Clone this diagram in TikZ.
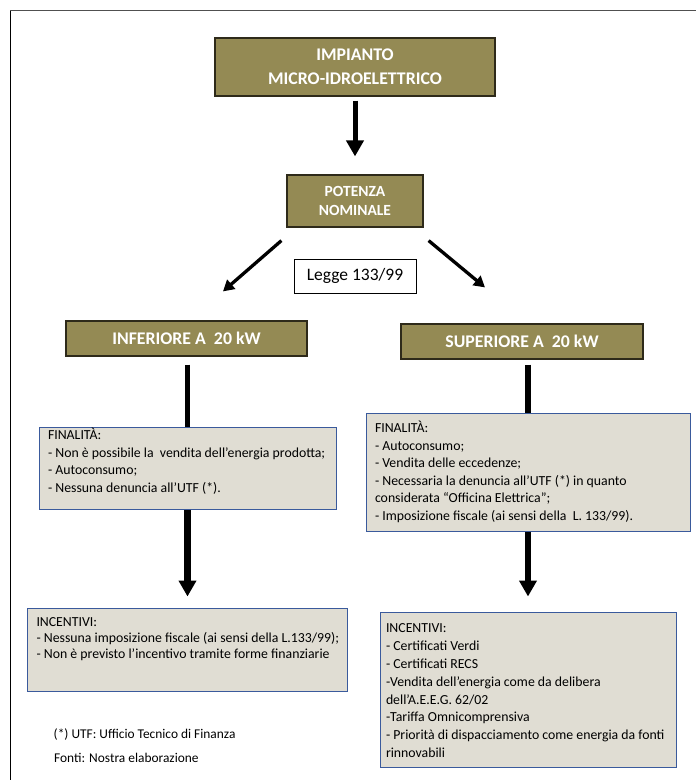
\documentclass[tikz,border=0pt]{standalone}
\usepackage{fontspec}
\setmainfont{Carlito}
\usepackage{tikz}
\usetikzlibrary{arrows.meta,positioning,calc}
\definecolor{headfill}{HTML}{948A54}
\definecolor{headline}{HTML}{2E2A1A}
\definecolor{notefill}{HTML}{E0DDD3}
\definecolor{noteline}{HTML}{3A5A9C}
\definecolor{framegrey}{HTML}{505050}
\newcommand{\notetext}[3]{\parbox[t][#1][t]{#2}{\raggedright\rightskip=-20pt plus 1fil #3}}

\begin{document}
\begin{tikzpicture}[x=1pt,y=-1pt,
  headbox/.style={draw=headline,fill=headfill,line width=1.2pt,text=white,
    font=\fontsize{17.8}{24}\selectfont\bfseries,align=center,inner sep=0pt},
  notebox/.style={draw=noteline,fill=notefill,line width=1pt,
    font=\fontsize{13.8}{17.5}\selectfont,inner xsep=9pt},
  bigarrow/.style={line width=6.5pt,-{Triangle[width=17pt,length=16pt]}},
  diagarrow/.style={line width=3.3pt,-{Triangle[width=12pt,length=11pt]}}]
  \useasboundingbox (0,0) rectangle (696,780);

  % Frame
  \draw[line width=1.2pt] (10.5,780) -- (10.5,10.5);
  \draw[framegrey,line width=1.5pt] (10,10.5) -- (696,10.5);

  % Plant and rated power
  \node[headbox,minimum width=280pt,minimum height=58pt] (impianto) at (355,67)
    {IMPIANTO\\MICRO-IDROELETTRICO};
  \node[headbox,minimum width=136pt,minimum height=52pt,
    font=\fontsize{15.5}{19}\selectfont\bfseries] (potenza) at (355,201)
    {POTENZA\\NOMINALE};
  \node[draw,line width=0.8pt,fill=white,minimum width=122pt,minimum height=34pt,
    inner sep=0pt,font=\fontsize{17.5}{21}\selectfont] (legge) at (355,276)
    {Legge 133/99};

  % The two power classes
  \node[headbox,minimum width=241pt,minimum height=35pt] (inferiore) at (186.5,338.5)
    {INFERIORE A\ \ 20 kW};
  \node[headbox,minimum width=242pt,minimum height=35pt] (superiore) at (522,341.5)
    {SUPERIORE A\ \ 20 kW};

  % Aims
  \node[notebox,inner ysep=1pt] (finL) at (187.5,468)
    {\notetext{80pt}{279pt}{FINALITÀ:\\- Non è possibile la\ \ vendita dell’energia prodotta;\\
     - Autoconsumo;\\- Nessuna denuncia all’UTF (*).}};
  \node[notebox,inner ysep=8pt,font=\fontsize{13.8}{17.6}\selectfont] (finR) at (528,472)
    {\notetext{102pt}{306pt}{FINALITÀ:\\- Autoconsumo;\\- Vendita delle eccedenze;\\
     - Necessaria la denuncia all’UTF (*) in quanto\\considerata “Officina Elettrica”;\\
     - Imposizione fiscale (ai sensi della\ \ L. 133/99).}};

  % Incentives
  \node[notebox,inner ysep=10pt,font=\fontsize{13.8}{16}\selectfont] (incL) at (187.5,649.5)
    {\notetext{63pt}{302pt}{INCENTIVI:\\- Nessuna imposizione fiscale (ai sensi della L.133/99);\\
     - Non è previsto l’incentivo tramite forme finanziarie}};
  \node[notebox,inner xsep=6pt,inner ysep=12pt,font=\fontsize{13.8}{17.8}\selectfont] (incR) at (528,689.5)
    {\notetext{131pt}{284pt}{INCENTIVI:\\- Certificati Verdi\\- Certificati RECS\\
     -Vendita dell’energia come da delibera\\dell’A.E.E.G. 62/02\\-Tariffa Omnicomprensiva\\
     - Priorità di dispacciamento come energia da fonti\\rinnovabili}};

  % Notes
  \node[anchor=west,inner sep=0pt,font=\fontsize{13.4}{15}\selectfont] (nota) at (53.5,735)
    {(*) UTF: Ufficio Tecnico di Finanza};
  \node[anchor=west,inner sep=0pt,font=\fontsize{13.4}{15}\selectfont] (fonti) at (54,758)
    {Fonti: Nostra elaborazione};

  % Connectors
  \draw[bigarrow,line width=5pt,shorten <=4pt,shorten >=18pt] (impianto) -- (potenza);
  \draw[diagarrow] ($(potenza.south west)+(-5,13)$) -- ($(inferiore.north)+(36.5,-29)$);
  \draw[diagarrow] ($(potenza.south east)+(5,13)$) -- ($(superiore.north)+(-37,-36)$);
  \draw[line width=5.5pt,shorten <=8pt] (finL.north |- inferiore.south) -- (finL.north);
  \draw[bigarrow,shorten >=11pt] (finL) -- (incL);
  \draw[line width=5.5pt,shorten <=5pt] (finR.north |- superiore.south) -- (finR.north);
  \draw[bigarrow,shorten >=15pt] (finR) -- (incR);
\end{tikzpicture}
\end{document}
